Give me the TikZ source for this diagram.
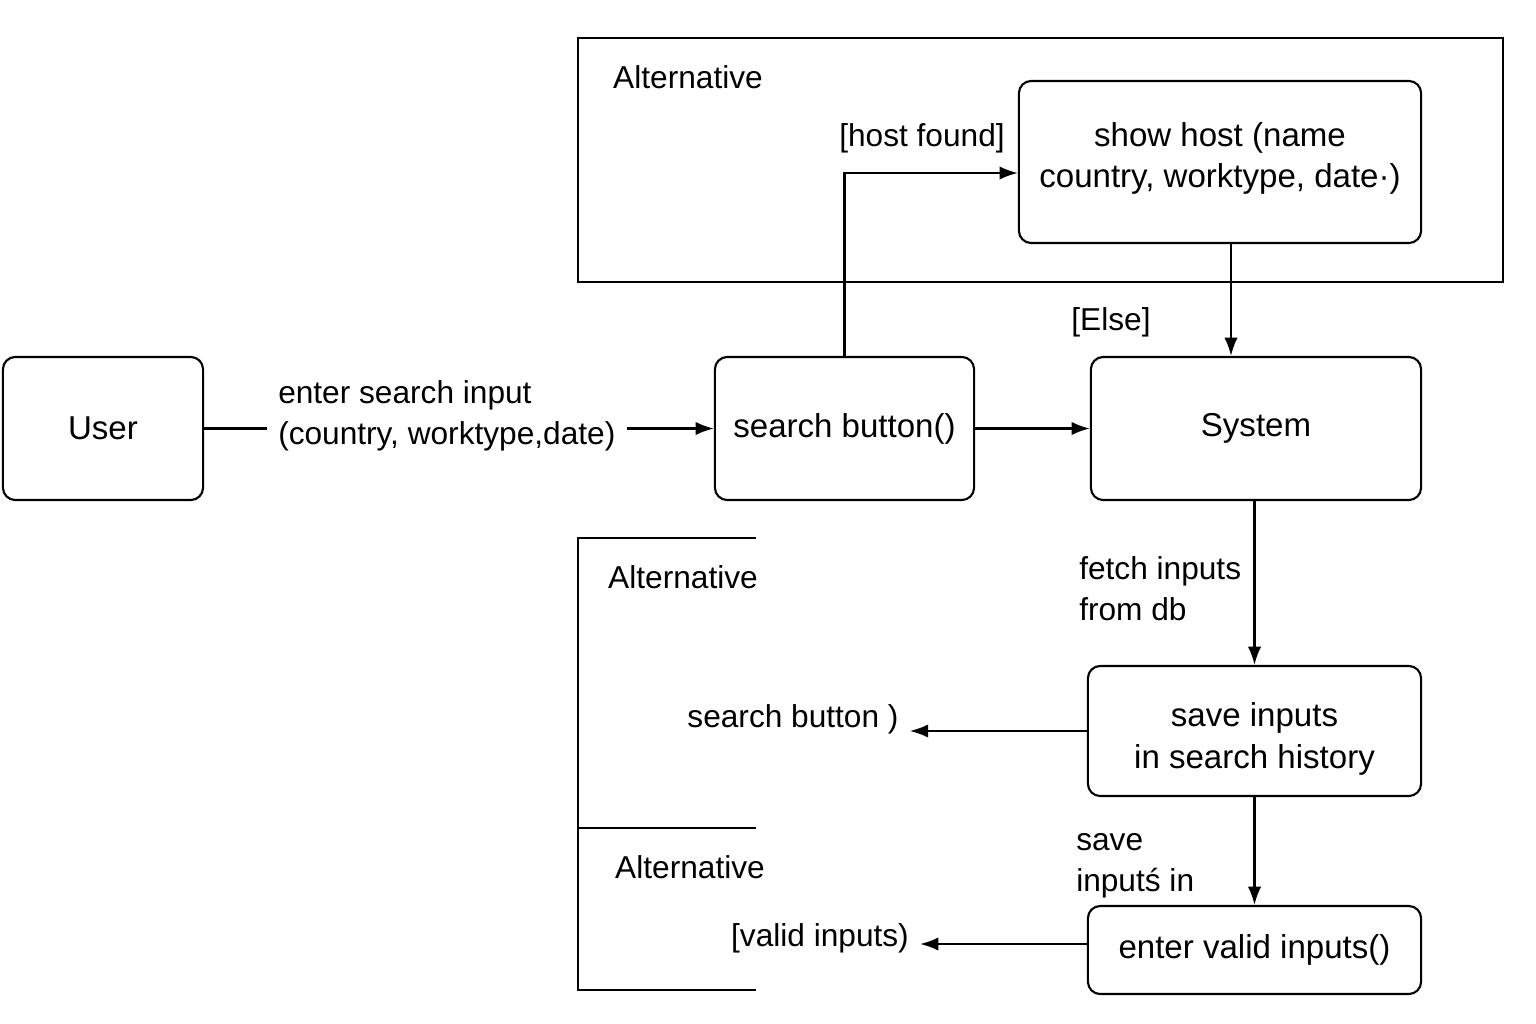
\documentclass[tikz,border=0pt]{standalone}
\usepackage{fontspec}
\setmainfont{Liberation Sans}
\usetikzlibrary{arrows.meta}
\tikzset{%
  actbox/.style   = {shape=rectangle, rounded corners=3.5pt,%
                     draw, line width=0.6pt, align=center,%
                     font=\fontsize{9.4}{11.7}\selectfont},%
  lbl/.style      = {align=left, inner sep=3pt},%
  arr/.style      = {-{Latex[length=5.2pt,width=3.8pt]}, line width=0.6pt},%
  altframe/.style = {line width=0.7pt}%
}
\begin{document}
\begin{tikzpicture}[x=0.01cm,y=-0.01cm,
	every node/.style = {font=\fontsize{9}{11.7}\selectfont}]
	\useasboundingbox (0,0) rectangle (1536,1024);
	% alternative frames
	\draw[altframe] (578,38) rectangle (1503,282);
	\draw[altframe] (756,538) -- (578,538) -- (578,990) -- (756,990);
	\draw[altframe] (578,828) -- (756,828);
	\node (altA) at (688,77) {Alternative};
	\node (altB) at (683,577) {Alternative};
	\node (altC) at (690,867) {Alternative};
	% boxes
	\node[actbox, minimum width=2cm, minimum height=1.43cm] (user) at (103,428.5) {User};
	\node[actbox, minimum width=2.59cm, minimum height=1.43cm] (searchbtn) at (844.5,428.5) {search button()};
	\node[actbox, minimum width=3.3cm, minimum height=1.43cm] (system) at (1256,428.5) {System};
	\node[actbox, minimum width=4.02cm, minimum height=1.62cm, text depth=4pt] (showhost) at (1220,162)
		{show host (name\\country, worktype, date·)};
	\node[actbox, minimum width=3.33cm, minimum height=1.3cm, text height=23pt] (saveinp) at (1254.5,731)
		{save inputs\\in search history};
	\node[actbox, minimum width=3.33cm, minimum height=0.88cm] (entervalid) at (1254.5,950)
		{enter valid inputs()};
	% labels
	\node[lbl, anchor=west] (inlbl) at (267,416) {enter search input\\(country, worktype,date)};
	\node[lbl] (hostfound) at (922,138) {[host found]};
	\node[lbl] (elselbl) at (1111,322) {[Else]};
	\node[lbl, anchor=west] (fetchlbl) at (1068,589) {fetch inputs\\from db};
	\node[lbl, anchor=west] (savelbl) at (1065,866) {save\\inputś in};
	\node[lbl] (sblbl) at (793,719) {search button )};
	\node[lbl] (vlbl) at (820,938) {[valid inputs)};
	% connectors
	\draw[line width=0.6pt] (user.east) -- (user.east -| inlbl.west);
	\draw[arr] (inlbl.east |- searchbtn.west) -- (searchbtn.west);
	\draw[arr] (searchbtn.east) -- (system.west);
	\draw[arr] (searchbtn.north) |- ([yshift=-0.11cm]showhost.west);
	\path (showhost.south) ++(11,0) coordinate (hsdown);
	\draw[arr] (hsdown) -- (hsdown |- system.north);
	\draw[arr] (saveinp.north |- system.south) -- (saveinp.north);
	\draw[arr] (saveinp.west) -- (saveinp.west -| sblbl.east);
	\draw[arr] (saveinp.south) -- (entervalid.north);
	\coordinate (evw) at ([yshift=0.06cm]entervalid.west);
	\draw[arr] (evw) -- (evw -| vlbl.east);
\end{tikzpicture}
\end{document}
